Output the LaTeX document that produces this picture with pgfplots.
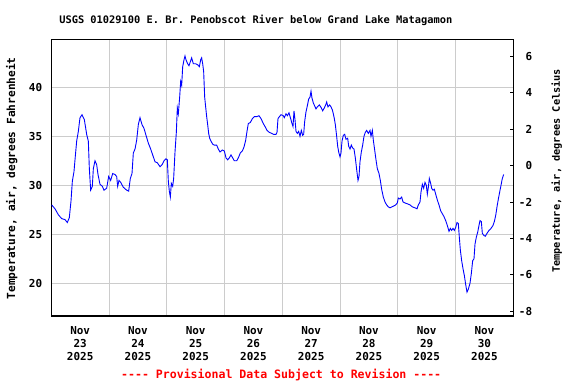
\documentclass[border=0pt]{standalone}
\usepackage{fontspec}
\setmonofont{DejaVu Sans Mono}
\usepackage{pgfplots}
\pgfplotsset{compat=1.18}

\pgfplotstableread{
h F
0.15 28.0
1.54 27.6
2.92 27.0
4.31 26.6
5.69 26.5
6.66 26.2
7.49 26.7
8.19 28.4
8.74 30.4
9.43 31.4
9.85 32.6
10.54 34.5
11.23 35.5
11.93 36.9
12.76 37.2
13.73 36.7
14.70 35.2
15.39 34.5
15.81 31.7
16.36 29.5
17.05 29.9
17.47 31.7
18.16 32.5
18.86 32.1
19.41 31.1
20.24 30.1
21.21 29.9
21.90 29.5
23.01 29.7
23.84 30.9
24.67 30.5
25.51 31.2
26.47 31.1
27.17 30.9
27.58 29.9
28.14 30.5
28.83 30.3
29.94 29.8
31.32 29.5
32.15 29.4
32.84 30.7
33.54 31.2
34.09 33.3
34.79 33.7
35.48 34.6
36.17 36.2
36.86 36.9
37.69 36.2
38.53 35.8
39.36 35.1
40.33 34.3
41.30 33.7
42.13 33.1
43.10 32.4
44.07 32.3
45.18 31.9
46.01 32.1
46.84 32.5
47.67 32.7
48.22 32.6
48.64 30.4
49.05 29.4
49.47 28.8
49.88 30.2
50.44 29.9
50.85 30.7
51.41 33.4
51.96 35.4
52.38 37.9
52.79 37.3
53.35 39.0
53.76 40.6
54.18 40.2
54.60 42.1
55.15 42.8
55.56 43.2
55.98 42.8
56.67 42.4
57.23 42.2
57.78 42.6
58.33 43.0
59.03 42.4
60.00 42.4
60.83 42.3
61.52 42.1
62.08 42.8
62.49 43.0
62.91 42.4
63.32 41.6
63.74 39.0
64.15 38.0
64.57 37.0
64.98 36.2
65.40 35.3
65.82 34.8
66.37 34.5
67.06 34.2
67.75 34.1
68.72 34.1
69.41 33.7
70.11 33.4
71.08 33.6
71.91 33.5
72.60 32.8
73.30 32.6
73.99 32.8
74.68 33.1
75.37 32.8
76.06 32.5
77.04 32.5
77.73 32.8
78.56 33.3
79.39 33.5
80.08 33.9
80.78 34.6
81.33 35.5
81.88 36.3
82.71 36.4
83.54 36.8
84.38 37.0
85.35 37.0
86.32 37.1
87.15 36.8
88.12 36.3
88.81 36.0
89.64 35.6
90.61 35.4
91.58 35.3
92.41 35.2
93.38 35.2
93.80 35.4
94.21 36.8
94.77 37.0
95.46 37.2
96.43 37.1
96.84 36.9
97.54 37.3
98.09 37.1
98.78 37.4
99.48 36.8
100.03 36.3
100.45 36.0
100.86 37.6
101.28 36.7
101.70 35.5
102.25 35.3
102.80 35.5
103.36 35.0
103.91 35.6
104.46 35.1
104.88 35.2
105.29 36.5
105.85 37.5
106.40 38.1
106.96 38.8
107.51 39.0
107.93 39.6
108.34 38.9
108.89 38.4
109.45 38.1
110.00 37.8
110.56 38.0
111.39 38.2
112.22 37.9
112.78 37.6
113.47 37.9
114.02 38.2
114.44 38.5
114.99 38.0
115.68 38.2
116.24 38.0
116.79 37.7
117.21 37.3
117.62 36.8
118.04 36.2
118.59 35.0
119.01 34.0
119.43 33.4
119.98 32.9
120.39 33.3
120.81 34.5
121.36 35.1
121.92 35.2
122.47 34.7
123.17 34.8
123.58 34.0
124.14 33.7
124.69 34.1
125.24 33.8
125.80 33.7
126.35 32.8
126.91 31.6
127.46 30.5
127.88 30.9
128.29 32.4
128.84 33.4
129.40 34.1
129.95 35.0
130.50 35.4
131.06 35.6
131.75 35.3
132.45 35.6
132.86 35.0
133.42 35.6
133.83 34.6
134.39 33.6
134.94 32.6
135.49 31.7
136.19 31.2
136.74 30.5
137.29 29.6
137.98 28.8
138.68 28.3
139.37 28.0
140.06 27.8
140.76 27.7
141.59 27.8
142.42 27.9
143.11 28.0
143.80 28.2
144.22 28.7
144.91 28.6
145.61 28.8
146.16 28.3
146.99 28.2
148.10 28.1
149.07 28.0
150.04 27.8
151.15 27.7
151.98 27.6
152.53 28.0
153.23 28.3
153.64 29.3
154.20 30.1
154.75 29.7
155.30 30.3
155.86 30.0
156.27 29.1
156.69 29.8
157.10 30.7
157.66 30.2
158.08 29.7
158.63 29.5
159.18 29.6
159.74 29.1
160.43 28.5
161.12 28.0
161.81 27.4
162.51 27.1
163.20 26.8
163.89 26.4
164.58 25.9
165.28 25.3
165.83 25.6
166.38 25.4
166.94 25.6
167.49 25.4
168.05 25.7
168.60 26.2
169.15 26.1
169.57 24.7
169.99 23.4
170.54 22.3
171.09 21.5
171.65 20.8
172.20 19.9
172.75 19.1
173.31 19.4
174.00 20.0
174.56 21.0
175.11 22.3
175.67 22.5
176.08 24.0
176.63 24.7
177.19 25.2
177.74 25.9
178.16 26.4
178.71 26.3
179.13 25.1
179.68 24.9
180.37 24.8
181.07 25.1
181.90 25.4
182.73 25.6
183.56 25.9
184.12 26.3
184.67 26.9
185.23 27.8
185.78 28.6
186.33 29.3
186.89 30.0
187.44 30.7
188.00 31.1
}\airtemp

\begin{document}
\begin{tikzpicture}[font=\ttfamily\bfseries]
\useasboundingbox (-51.3bp,-68bp) rectangle (524.7bp,316bp);
\begin{axis}[
  at={(0,0)}, anchor=south west,
  scale only axis, width=462bp, height=276.7bp,
  xmin=0, xmax=192, ymin=16.663, ymax=44.898,
  axis line style={black, line width=1.3bp},
  xtick={12,36,...,180},
  xticklabels={{Nov\\23\\2025},{Nov\\24\\2025},{Nov\\25\\2025},{Nov\\26\\2025},{Nov\\27\\2025},{Nov\\28\\2025},{Nov\\29\\2025},{Nov\\30\\2025}},
  minor xtick={24,48,...,168},
  xminorgrids=true, xmajorgrids=false,
  ytick={20,25,...,40},
  ymajorgrids=true,
  major tick length=0pt, minor tick length=0pt,
  grid style={black!20, line width=1bp},
  minor grid style={black!20, line width=1bp},
  tick label style={font=\fontsize{11}{13}\selectfont\ttfamily\bfseries},
  xticklabel style={align=center, anchor=north, inner sep=0pt, yshift=-10bp},
  yticklabel style={anchor=east, inner sep=0pt, xshift=-9bp},
  /pgf/number format/assume math mode=true,
  ytick pos=left, xtick pos=bottom,
]
\addplot[blue, line width=0.9bp, sharp plot] table[x=h, y=F] {\airtemp};
\end{axis}
\begin{axis}[
  at={(0,0)}, anchor=south west,
  scale only axis, width=462bp, height=276.7bp,
  xmin=0, xmax=192, ymin=-8.26, ymax=6.95,
  hide x axis,
  axis y line*=right,
  axis line style={black, line width=1.3bp},
  ytick={-8,-6,...,6},
  tick align=inside,
  major tick length=3bp,
  tick style={black, line width=1bp},
  tick label style={font=\fontsize{11}{13}\selectfont\ttfamily\bfseries},
  yticklabel style={anchor=east, inner sep=0pt, xshift=19bp},
  /pgf/number format/assume math mode=true,
]
\end{axis}
\node[font=\fontsize{10.4}{12}\selectfont\ttfamily\bfseries] at (204.5bp,296bp) {USGS 01029100 E. Br. Penobscot River below Grand Lake Matagamon};
\node[text=red, font=\fontsize{11.6}{13}\selectfont\ttfamily\bfseries] at (229.9bp,-59bp) {---- Provisional Data Subject to Revision ----};
\node[rotate=90, font=\fontsize{11.2}{13}\selectfont\ttfamily\bfseries] at (-39.6bp,137.7bp) {Temperature, air, degrees Fahrenheit};
\node[rotate=90, font=\fontsize{10.3}{12}\selectfont\ttfamily\bfseries] at (505.4bp,145.2bp) {Temperature, air, degrees Celsius};
\end{tikzpicture}
\end{document}
